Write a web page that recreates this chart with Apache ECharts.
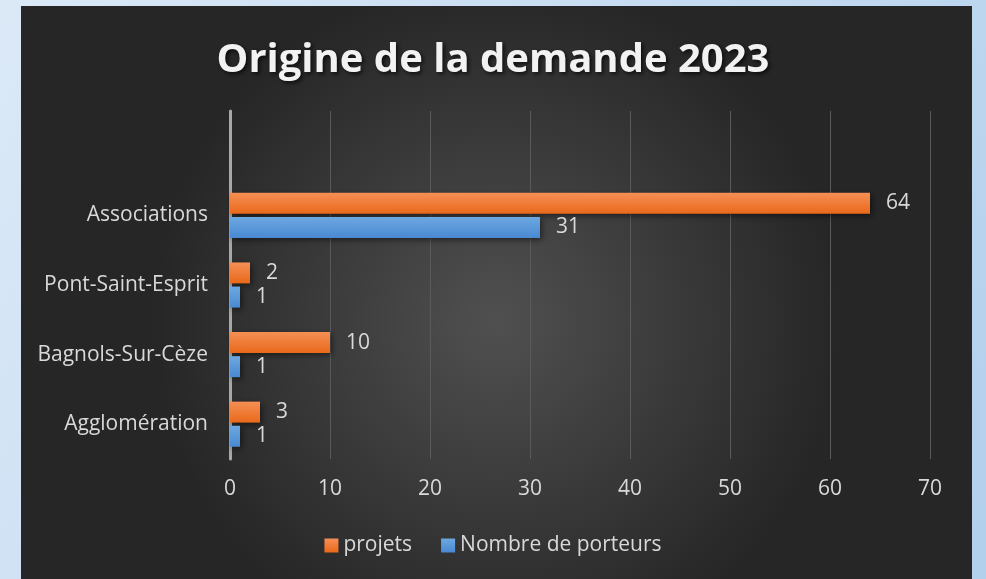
<!DOCTYPE html>
<html>
<head>
<meta charset="utf-8">
<script src="https://cdn.jsdelivr.net/npm/echarts@6/dist/echarts.min.js"></script>
<style>
html, body { margin: 0; padding: 0; }
#echart { width: 986px; height: 579px; }
</style>
</head>
<body>
<div id="echart"></div>
<script>
// categories from bottom to top; the top slot is empty like in the original
var categories = ['Agglomération', 'Bagnols-Sur-Cèze', 'Pont-Saint-Esprit', 'Associations', ''];
var projets = [3, 10, 2, 64, null];
var porteurs = [1, 1, 1, 31, null];
var xTicks = [0, 70, 10];  // min, max, interval

var myChart = echarts.init(document.getElementById('echart'));

var fontFam = '"Open Sans", sans-serif';
var labelColor = '#d9d9d9';

function vGrad(top, bottom) {
    return new echarts.graphic.LinearGradient(0, 0, 0, 1, [
        {offset: 0, color: top},
        {offset: 1, color: bottom}
    ]);
}

var option = {
    backgroundColor: new echarts.graphic.LinearGradient(0, 0, 1, 1, [
        {offset: 0, color: '#dbe9f7'},
        {offset: 1, color: '#b2cfec'}
    ]),
    graphic: [{
        type: 'rect',
        z: -10,
        silent: true,
        shape: {x: 21, y: 6, width: 951, height: 573},
        style: {
            fill: new echarts.graphic.RadialGradient(0.5, 0.55, 0.6, [
                {offset: 0, color: '#505050'},
                {offset: 1, color: '#262626'}
            ])
        }
    }],
    title: {
        text: 'Origine de la demande 2023',
        left: 'center',
        top: 36,
        textStyle: {
            color: '#f2f2f2',
            fontFamily: fontFam,
            fontWeight: 'bold',
            fontSize: 40,
            textShadowColor: 'rgba(0,0,0,0.7)',
            textShadowBlur: 4,
            textShadowOffsetX: 2,
            textShadowOffsetY: 2
        }
    },
    legend: {
        bottom: 18,
        left: 'center',
        data: ['projets', 'Nombre de porteurs'],
        icon: 'rect',
        itemWidth: 14,
        itemHeight: 14,
        itemGap: 29,
        textStyle: {color: labelColor, fontSize: 21, fontFamily: fontFam}
    },
    grid: {
        left: 230,
        right: 56,
        top: 111,
        bottom: 120
    },
    xAxis: {
        type: 'value',
        min: xTicks[0],
        max: xTicks[1],
        interval: xTicks[2],
        axisLine: {show: false},
        axisTick: {show: false},
        axisLabel: {color: labelColor, fontSize: 21, fontFamily: fontFam, margin: 20},
        splitLine: {lineStyle: {color: '#5a5a5a', width: 1}}
    },
    yAxis: {
        type: 'category',
        data: categories,
        axisTick: {show: false},
        axisLine: {lineStyle: {color: '#a8a8a8', width: 3}},
        axisLabel: {color: labelColor, fontSize: 21, fontFamily: fontFam, margin: 22}
    },
    series: [
        {
            name: 'projets',
            type: 'bar',
            data: projets,
            barWidth: 21,
            barGap: '15%',
            itemStyle: {
                color: vGrad('#f58f55', '#e9691a'),
                shadowColor: 'rgba(0,0,0,0.5)',
                shadowBlur: 6,
                shadowOffsetX: 2,
                shadowOffsetY: 2
            },
            label: {
                show: true,
                position: 'right',
                distance: 16,
                color: labelColor,
                fontSize: 21,
                fontFamily: fontFam
            }
        },
        {
            name: 'Nombre de porteurs',
            type: 'bar',
            data: porteurs,
            barWidth: 21,
            barGap: '15%',
            itemStyle: {
                color: vGrad('#6ea8e0', '#4889d2'),
                shadowColor: 'rgba(0,0,0,0.5)',
                shadowBlur: 6,
                shadowOffsetX: 2,
                shadowOffsetY: 2
            },
            label: {
                show: true,
                position: 'right',
                distance: 16,
                color: labelColor,
                fontSize: 21,
                fontFamily: fontFam
            }
        }
    ]
};

myChart.setOption(option);
</script>
</body>
</html>
